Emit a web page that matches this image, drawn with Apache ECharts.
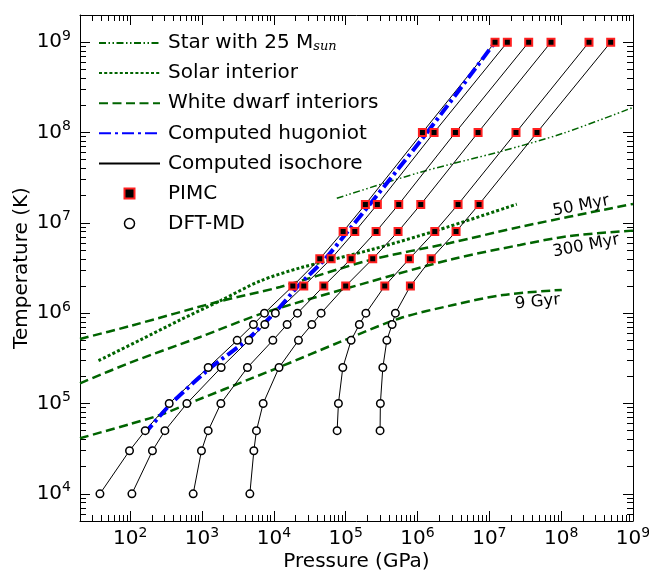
<!DOCTYPE html>
<html>
<head>
<meta charset="utf-8">
<script src="https://cdn.jsdelivr.net/npm/echarts@6/dist/echarts.min.js"></script>
<style>
  html, body { margin: 0; padding: 0; background: #fff; }
  #chart { width: 649px; height: 573px; }
</style>
</head>
<body>
<div id="chart"></div>
<script>
// Axis ranges (pressure in GPa, temperature in K)
const P_MIN = 20, P_MAX = 1e9;
const T_MIN = 5e3, T_MAX = 2e9;

// Temperatures sampled along each isochore (DFT-MD up to 1e6 K, PIMC above)
const isoTemps = [1e4, 3e4, 5e4, 1e5, 2.5e5, 5e5, 7.5e5, 1e6, 2e6, 4e6, 8e6, 1.6e7, 1e8, 1e9];
const iso1P = [37.9, 97.8, 161.7, 349, 1218, 3083, 5196, 7396, 1.837e4, 4.36e4, 9.21e4, 1.88e5, 1.17e6, 1.2e7];
const iso2P = [105.6, 204, 304, 615, 1846, 4484, 7486, 1.05e4, 2.61e4, 6.27e4, 1.34e5, 2.76e5, 1.70e6, 1.78e7];
const iso3P = [753, 982, 1218, 1829, 4287, 9680, 1.53e4, 2.13e4, 4.96e4, 1.19e5, 2.65e5, 5.48e5, 3.37e6, 3.53e7];
const iso4P = [4632, 5265, 5722, 7096, 1.18e4, 2.20e4, 3.38e4, 4.55e4, 1.00e5, 2.38e5, 5.36e5, 1.11e6, 6.97e6, 7.22e7];
const iso5P = [null, null, 7.60e4, 7.92e4, 9.12e4, 1.19e5, 1.55e5, 1.91e5, 3.50e5, 7.70e5, 1.74e6, 3.67e6, 2.35e7, 2.44e8];
const iso6P = [null, null, 3.01e5, 3.04e5, 3.29e5, 3.74e5, 4.43e5, 4.92e5, 7.96e5, 1.55e6, 3.44e6, 7.19e6, 4.61e7, 4.89e8];
const DFT_MAX_T = 1e6;

// Computed hugoniot
const hugP = [157, 372, 1297, 4247, 1.11e4, 2.18e4, 5.17e4, 1.08e5, 2.19e5, 1.36e6, 1.2e7];
const hugT = [4.6e4, 1e5, 2.47e5, 5.05e5, 1.08e6, 2.0e6, 3.98e6, 8.1e6, 1.62e7, 1.0e8, 1e9];

// Star with 25 solar masses
const starP = [7.52e4, 1.09e6, 1.41e7, 1.07e8, 1.01e9];
const starT = [1.87e7, 3.63e7, 6.15e7, 9.82e7, 1.90e8];

// Solar interior
const solarP = [36.2, 138, 496, 1788, 6446, 2.32e4, 2.19e5, 1.76e6, 2.41e7];
const solarT = [2.98e5, 5.05e5, 8.41e5, 1.37e6, 2.27e6, 3.17e6, 5.01e6, 8.13e6, 1.61e7];

// White dwarf interiors at three cooling ages
const wd50P = [20, 100, 1625, 1.22e4, 2.19e5, 2.84e6, 2.67e7, 1e9];
const wd50T = [5.18e5, 7.21e5, 1.33e6, 1.95e6, 3.88e6, 5.98e6, 9.02e6, 1.62e7];
const wd300P = [20, 100, 942, 7096, 2.19e5, 3.12e6, 2.67e7, 1.33e8, 1e9];
const wd300T = [1.67e5, 2.83e5, 5.45e5, 1.0e6, 2.23e6, 3.98e6, 5.69e6, 7.16e6, 8.2e6];
const wd9P = [20, 100, 261, 855, 4677, 1.22e4, 8.36e4, 5.72e5, 3.12e6, 1.55e7, 1.02e8];
const wd9T = [4.12e4, 5.93e4, 7.46e4, 1.09e5, 1.87e5, 2.54e5, 4.80e5, 8.79e5, 1.23e6, 1.59e6, 1.81e6];

// Age labels placed along the white dwarf curves
const wdLabels = ['50 Myr', '300 Myr', '9 Gyr'];
const wdLabelP = [1.89e8, 2.22e8, 4.69e7];
const wdLabelT = [1.54e7, 5.55e6, 1.33e6];

// Tick values
const majorX = [1e2, 1e3, 1e4, 1e5, 1e6, 1e7, 1e8, 1e9];
const majorY = [1e4, 1e5, 1e6, 1e7, 1e8, 1e9];

function minorTicks(lo, hi, e0, e1) {
  const out = [];
  for (let e = e0; e <= e1; e++) {
    for (let m = 2; m <= 9; m++) {
      const v = m * Math.pow(10, e);
      if (v >= lo && v <= hi) out.push(v);
    }
  }
  return out;
}
const minorX = minorTicks(P_MIN, P_MAX, 1, 8);
const minorY = minorTicks(T_MIN, T_MAX, 3, 9);

const zip = (xs, ys) => xs.map((x, i) => [x, ys[i]]);

const GREEN = '#006400';
const FONT = 'DejaVu Sans';

const powRich = {
  b: { fontSize: 20, lineHeight: 26, fontFamily: FONT, color: '#000' },
  e: { fontSize: 14, lineHeight: 10, verticalAlign: 'top', fontFamily: FONT, color: '#000' }
};
const powFmt = v => '{b|10}{e|' + Math.round(Math.log10(v)) + '}';

function makeAxis(kind, pos, major, withLabels) {
  const isX = kind === 'x';
  const ax = {
    type: 'log',
    logBase: 10,
    min: isX ? P_MIN : T_MIN,
    max: isX ? P_MAX : T_MAX,
    position: pos,
    splitLine: { show: false },
    axisLine: { show: major, onZero: false, lineStyle: { color: '#000', width: 1 } },
    axisTick: {
      show: true, inside: true,
      length: major ? 10 : 6,
      customValues: major ? (isX ? majorX : majorY) : (isX ? minorX : minorY),
      lineStyle: { color: '#000', width: 1 }
    },
    axisLabel: withLabels ? {
      show: true,
      customValues: isX ? majorX : majorY,
      formatter: powFmt,
      rich: powRich,
      margin: isX ? 5 : 9
    } : { show: false }
  };
  if (withLabels) {
    ax.name = isX ? 'Pressure (GPa)' : 'Temperature (K)';
    ax.nameLocation = 'middle';
    ax.nameGap = isX ? 31 : 48;
    ax.nameMoveOverlap = false;
    ax.nameTextStyle = { fontSize: 20, fontFamily: FONT, color: '#000' };
  }
  return ax;
}

const series = [];

// White dwarf interiors (three ages, one legend entry)
[[wd50P, wd50T, 0], [wd300P, wd300T, 1], [wd9P, wd9T, 2]].forEach(([p, t, k]) => {
  series.push({
    name: 'White dwarf interiors',
    type: 'line',
    data: zip(p, t),
    symbol: 'none',
    smooth: 0.3,
    lineStyle: { color: GREEN, width: 2.5, type: [9, 4.5] },
    itemStyle: { color: GREEN },
    z: 2,
    markPoint: {
      symbol: 'circle', symbolSize: 0,
      label: {
        show: true, position: 'inside', color: '#000',
        fontSize: 16.5, fontFamily: FONT,
        rotate: [11, 11, 5.5][k],
        formatter: wdLabels[k]
      },
      data: [{ coord: [wdLabelP[k], wdLabelT[k]] }]
    }
  });
});

series.push({
  name: 'Solar interior',
  type: 'line',
  data: zip(solarP, solarT),
  symbol: 'none',
  smooth: 0.3,
  lineStyle: { color: GREEN, width: 3, type: [3, 2.2] },
  itemStyle: { color: GREEN },
  z: 2
});

series.push({
  name: 'Star with 25 Msun',
  type: 'line',
  data: zip(starP, starT),
  symbol: 'none',
  smooth: 0.3,
  lineStyle: { color: GREEN, width: 1.5, type: [7, 2.5, 1.5, 2.5, 1.5, 2.5] },
  itemStyle: { color: GREEN },
  z: 2
});

// Isochores: thin black lines through the simulation points
const isoList = [iso1P, iso2P, iso3P, iso4P, iso5P, iso6P];
const dftPts = [], pimcPts = [];
isoList.forEach(p => {
  const pts = [];
  p.forEach((v, i) => {
    if (v == null) return;
    const pt = [v, isoTemps[i]];
    pts.push(pt);
    if (isoTemps[i] <= DFT_MAX_T) dftPts.push(pt); else pimcPts.push(pt);
  });
  series.push({
    name: 'Computed isochore',
    type: 'line',
    data: pts,
    symbol: 'none',
    lineStyle: { color: '#000', width: 1 },
    itemStyle: { color: '#000' },
    z: 3
  });
});

series.push({
  name: 'Computed hugoniot',
  type: 'line',
  data: zip(hugP, hugT),
  symbol: 'none',
  smooth: 0.2,
  lineStyle: { color: '#0000ff', width: 4, type: [12, 4, 3, 4] },
  itemStyle: { color: '#0000ff' },
  z: 4
});

series.push({
  name: 'PIMC',
  type: 'scatter',
  data: pimcPts,
  symbol: 'rect',
  symbolSize: 7,
  itemStyle: { color: '#000', borderColor: '#ff2020', borderWidth: 2, opacity: 1 },
  z: 5
});

series.push({
  name: 'DFT-MD',
  type: 'scatter',
  data: dftPts,
  symbol: 'circle',
  symbolSize: 7.5,
  itemStyle: { color: '#fff', borderColor: '#000', borderWidth: 1.5, opacity: 1 },
  z: 5
});

const legendNames = ['Star with 25 Msun', 'Solar interior', 'White dwarf interiors',
  'Computed hugoniot', 'Computed isochore', 'PIMC', 'DFT-MD'];

const option = {
  animation: false,
  backgroundColor: '#fff',
  textStyle: { fontFamily: FONT },
  grid: { left: 80, right: 16, top: 15, bottom: 52, containLabel: false, outerBoundsMode: 'none' },
  xAxis: [
    makeAxis('x', 'bottom', true, true),
    makeAxis('x', 'top', true, false),
    makeAxis('x', 'bottom', false, false),
    makeAxis('x', 'top', false, false)
  ],
  yAxis: [
    makeAxis('y', 'left', true, true),
    makeAxis('y', 'right', true, false),
    makeAxis('y', 'left', false, false),
    makeAxis('y', 'right', false, false)
  ],
  legend: {
    orient: 'vertical',
    left: 98,
    top: 33,
    padding: 0,
    itemWidth: 61,
    itemHeight: 10,
    itemGap: 10.1,
    selectedMode: false,
    symbolKeepAspect: true,
    data: legendNames.map(n => {
      if (n === 'PIMC') return { name: n, icon: 'path://M0 0H10V10H0Z', itemStyle: { color: '#000', borderColor: '#ff2020', borderWidth: 2 } };
      if (n === 'DFT-MD') return { name: n, icon: 'circle', itemStyle: { color: '#fff', borderColor: '#000', borderWidth: 1.5 } };
      // line entries: show only the line, no marker
      return { name: n, itemStyle: { color: 'rgba(0,0,0,0)', borderColor: 'rgba(0,0,0,0)', borderWidth: 0 } };
    }),
    formatter: n => n === 'Star with 25 Msun' ? 'Star with 25 M{sub|sun}' : n,
    textStyle: {
      fontSize: 20, lineHeight: 20, fontFamily: FONT, color: '#000',
      padding: [0, 0, 0, 3],
      rich: {
        sub: { fontSize: 13, lineHeight: 4, verticalAlign: 'bottom', fontFamily: 'DejaVu Serif', fontStyle: 'italic', color: '#000' }
      }
    }
  },
  series: series
};

const chart = echarts.init(document.getElementById('chart'), null, { renderer: 'canvas' });
chart.setOption(option);
</script>
</body>
</html>
